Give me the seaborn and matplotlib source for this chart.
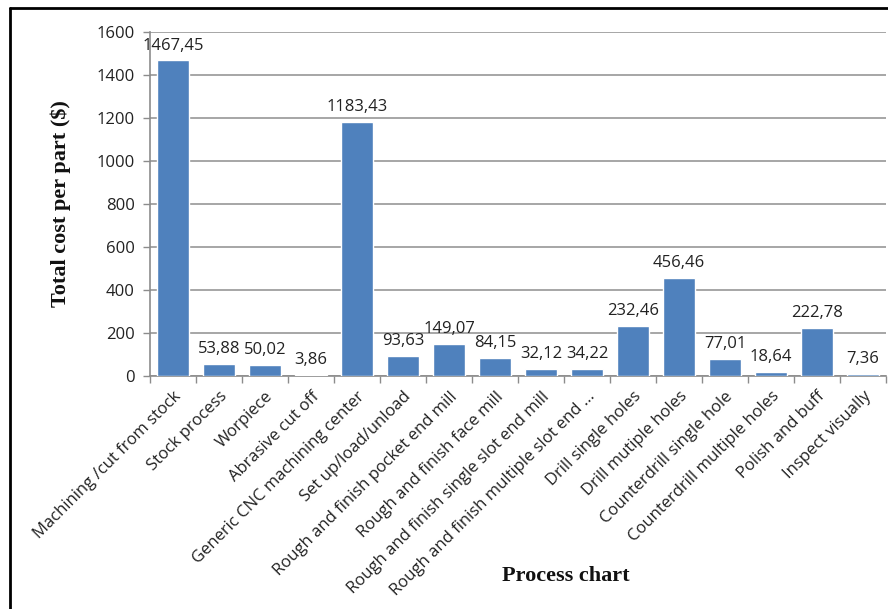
import matplotlib
matplotlib.use("Agg")
import matplotlib.pyplot as plt
from matplotlib.lines import Line2D
from matplotlib.ticker import FixedLocator
import seaborn as sns
import pandas as pd

processes = [
    "Machining /cut from stock",
    "Stock process",
    "Worpiece",
    "Abrasive cut off",
    "Generic CNC machining center",
    "Set up/load/unload",
    "Rough and finish pocket end mill",
    "Rough and finish face mill",
    "Rough and finish single slot end mill",
    "Rough and finish multiple slot end \u2026",
    "Drill single holes",
    "Drill mutiple holes",
    "Counterdrill single hole",
    "Counterdrill multiple holes",
    "Polish and buff",
    "Inspect visually",
]
costs = [1467.45, 53.88, 50.02, 3.86, 1183.43, 93.63, 149.07, 84.15,
         32.12, 34.22, 232.46, 456.46, 77.01, 18.64, 222.78, 7.36]
y_ticks = [0, 200, 400, 600, 800, 1000, 1200, 1400, 1600]

df = pd.DataFrame({"process": processes, "cost": costs})

sns.set_theme(style="white")
plt.rcParams["font.family"] = ["Open Sans", "DejaVu Sans"]

TXT = 12

fig = plt.figure(figsize=(8.88, 6.09), dpi=100)
ax = fig.add_axes([150 / 888, 1 - 376 / 609, 736 / 888, 344 / 609])

sns.barplot(data=df, x="process", y="cost", color="#4F81BD", saturation=1,
            width=0.68, ax=ax, zorder=3)

ax.set_ylim(0, 1600)
ax.set_xlim(-0.5, len(processes) - 0.5)
ax.yaxis.set_major_locator(FixedLocator(y_ticks))
ax.set_yticklabels([str(v) for v in y_ticks], fontsize=TXT, color="#222222")
ax.grid(axis="y", color="#A6A6A6", linewidth=1.4, zorder=0)
ax.grid(axis="x", visible=False)

for side in ("top", "right"):
    ax.spines[side].set_visible(False)
for side in ("left", "bottom"):
    ax.spines[side].set_color("#8C8C8C")
    ax.spines[side].set_linewidth(1.2)

ax.tick_params(axis="y", which="major", direction="out", length=5,
               width=1, color="#8C8C8C", left=True, pad=6)
ax.set_xticks(range(len(processes)))
ax.set_xticklabels(processes, rotation=45, ha="right", rotation_mode="anchor",
                   fontsize=TXT, color="#222222")
ax.xaxis.set_minor_locator(FixedLocator([i - 0.5 for i in range(len(processes) + 1)]))
ax.tick_params(axis="x", which="major", length=0, pad=9)
ax.tick_params(axis="x", which="minor", direction="out", length=5, width=1,
               color="#8C8C8C", bottom=True)

for i, v in enumerate(costs):
    ax.annotate(f"{v:.2f}".replace(".", ","), (i, v), xytext=(0, 5),
                textcoords="offset points", ha="center", va="bottom",
                fontsize=TXT, color="#222222", zorder=4)

ax.set_ylabel("Total cost per part ($)", family="Liberation Serif",
              fontweight="bold", fontsize=16, color="#111111")
ax.yaxis.set_label_coords(-(150 - 71) / 736, 0.5)
ax.set_xlabel("Process chart", family="Liberation Serif",
              fontweight="bold", fontsize=16, color="#111111")
ax.xaxis.set_label_coords((566 - 150) / 736, -(566 - 376) / 344)

# Outer frame around the chart area
fig.add_artist(Line2D([10 / 888, 10 / 888], [0, 1 - 8 / 609], transform=fig.transFigure,
                      color="black", linewidth=2))
fig.add_artist(Line2D([10 / 888, 1], [1 - 8 / 609, 1 - 8 / 609], transform=fig.transFigure,
                      color="black", linewidth=2))

fig.savefig("out.png", dpi=100)
